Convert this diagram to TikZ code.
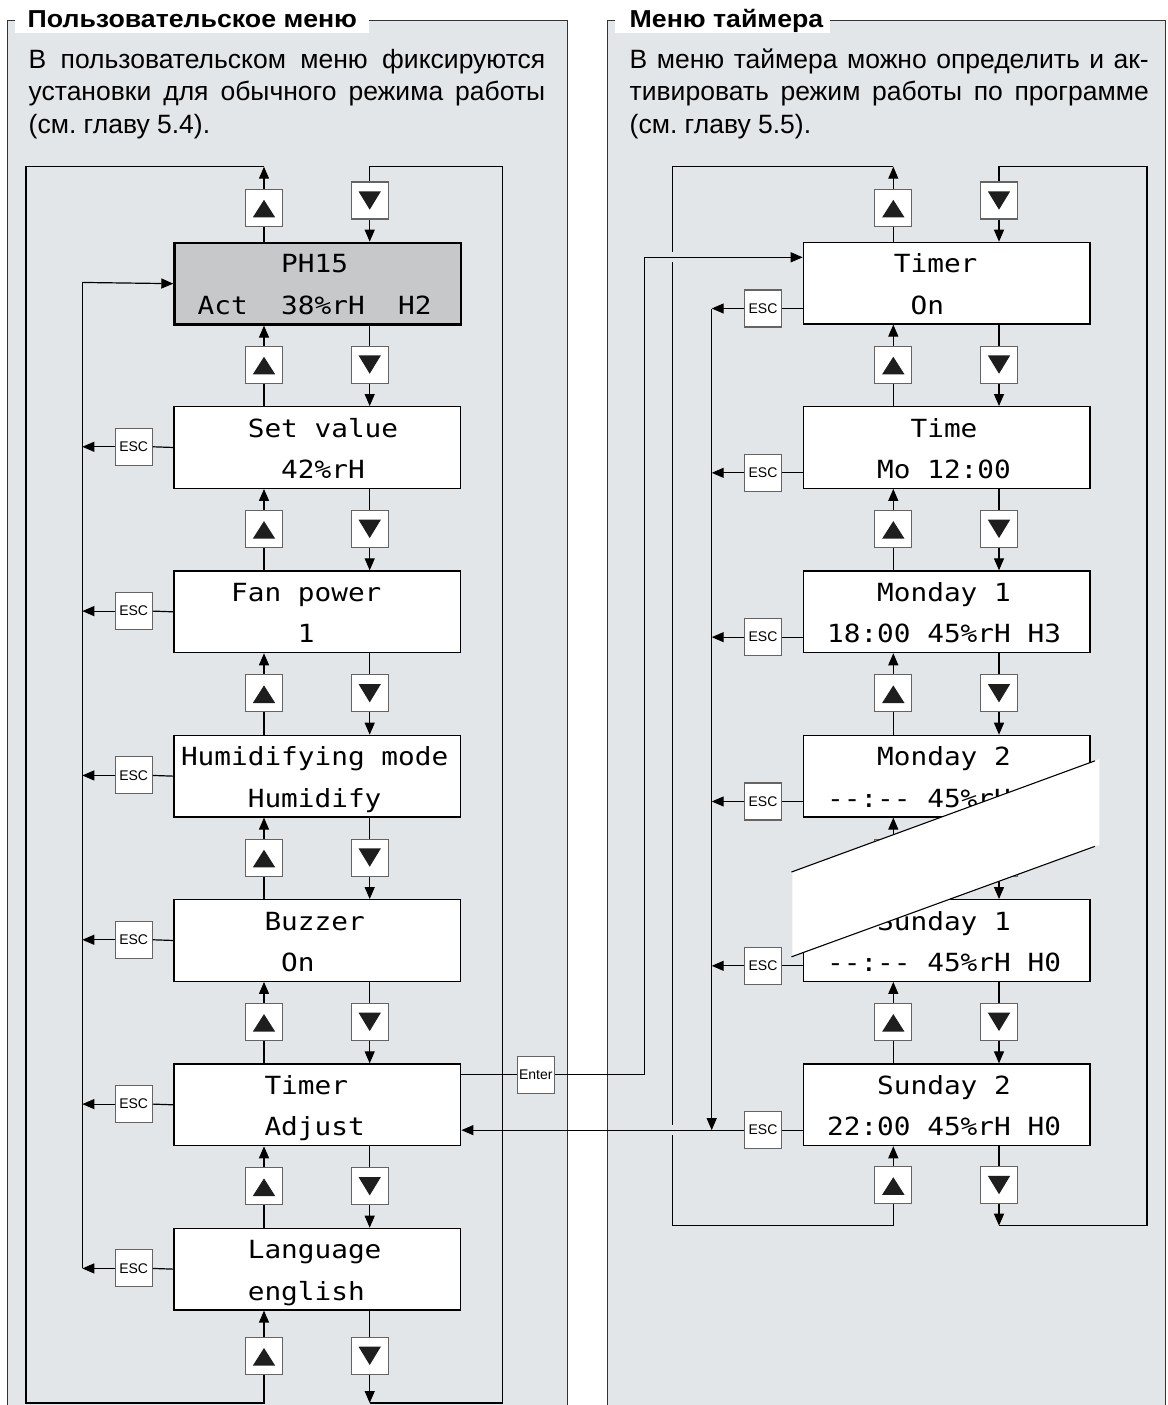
\documentclass[tikz,border=0pt]{standalone}
\usepackage{fontspec}
\setmainfont{Liberation Sans}
\newfontfamily\lcdfont[FakeStretch=1.11]{DejaVu Sans Mono}
\newfontfamily\titlefont[FakeStretch=1.09]{Liberation Sans}
\usetikzlibrary{arrows.meta,calc}
\definecolor{panelgray}{RGB}{227,230,233}
\definecolor{lcdgray}{RGB}{198,200,202}
\definecolor{btnborder}{RGB}{100,100,100}
\definecolor{arrfill}{RGB}{30,30,30}
\newcommand\lsp{\hspace*{16.7pt}}
\newcommand\lcdrow[5]{\node[lcdtxt] (#1) at ($(#2.north west)+({7.5+16.7*#4},#3)$) {#5};}
\begin{document}
\begin{tikzpicture}[x=1pt,y=-1pt,
  line/.style={line width=1.2pt, draw=black},
  arr/.style={line, -{Triangle[length=12pt,width=10pt]}},
  lcdbox/.style={draw=black, line width=1.4pt, fill=white, minimum width=286.7pt, minimum height=81.5pt, inner sep=0pt, anchor=north west},
  lcdtxt/.style={anchor=base west, inner sep=0pt, font=\lcdfont\fontsize{25}{30}\selectfont},
  btn/.style={draw=btnborder, line width=1.1pt, fill=white, minimum size=37pt, inner sep=0pt},
  esc/.style={btn, font=\fontsize{14}{15}\selectfont},
  btnup/.style={btn, path picture={\fill[arrfill] ([shift={(-11.2,9.8)}]path picture bounding box.center) -- ([shift={(11.2,9.8)}]path picture bounding box.center) -- ([shift={(0,-7.8)}]path picture bounding box.center) -- cycle;}},
  btndown/.style={btn, path picture={\fill[arrfill] ([shift={(-11.2,-9.2)}]path picture bounding box.center) -- ([shift={(11.2,-9.2)}]path picture bounding box.center) -- ([shift={(0,9.2)}]path picture bounding box.center) -- cycle;}},
  bodytxt/.style={anchor=base west, inner sep=0pt, font=\fontsize{26.5}{30}\selectfont},
  titletxt/.style={anchor=base west, inner sep=0pt, font=\titlefont\bfseries\fontsize{24.5}{27}\selectfont},
  frame/.style={line width=1.3pt, draw=black!80}
]
\useasboundingbox (0,0) rectangle (1167,1405);
\fill[white] (0,0) rectangle (1167,1405);

% ---------- panels ----------
\fill[panelgray] (7.5,20.5) rectangle (567.3,1406);
\fill[panelgray] (607.5,20.5) rectangle (1165.5,1406);
\draw[frame] (7.5,1406) -- (7.5,20.5) -- (567.3,20.5) -- (567.3,1406);
\draw[frame] (607.5,1406) -- (607.5,20.5) -- (1165.5,20.5) -- (1165.5,1406);
\fill[white] (15.2,19.2) rectangle (369,33.3);
\fill[white] (615.2,19.2) rectangle (830,33.3);
\node[titletxt] (T1) at (27.5,27.8) {Пользовательское меню};
\node[titletxt] (T2) at (629.5,27.8) {Меню таймера};

\frenchspacing
\node[bodytxt] (B1a) at (28.5,68.3) {\makebox[516.5pt][s]{В пользовательском меню фиксируются}};
\node[bodytxt] (B1b) at (28.5,100.8) {\makebox[516.5pt][s]{установки для обычного режима работы}};
\node[bodytxt] (B1c) at (28.5,133.3) {(см. главу 5.4).};
\node[bodytxt] (B2a) at (629.5,68.3) {\makebox[519pt][s]{В меню таймера можно определить и ак-}};
\node[bodytxt] (B2b) at (629.5,100.8) {\makebox[519pt][s]{тивировать режим работы по программе}};
\node[bodytxt] (B2c) at (629.5,133.3) {(см. главу 5.5).};

% ---------- boxes ----------
\node[lcdbox, fill=lcdgray, line width=2.4pt] (L0) at (173.3,241.7) {};
\node[lcdbox] (L1) at (173.3,406.03) {};
\node[lcdbox] (L2) at (173.3,570.36) {};
\node[lcdbox] (L3) at (173.3,734.69) {};
\node[lcdbox] (L4) at (173.3,899.02) {};
\node[lcdbox] (L5) at (173.3,1063.35) {};
\node[lcdbox] (L6) at (173.3,1227.68) {};
\node[lcdbox] (R0) at (802.7,241.7) {};
\node[lcdbox] (R1) at (802.7,406.03) {};
\node[lcdbox] (R2) at (802.7,570.36) {};
\node[lcdbox] (R3) at (802.7,734.69) {};
\node[lcdbox] (R4) at (802.7,899.02) {};
\node[lcdbox] (R5) at (802.7,1063.35) {};

\lcdrow{L0a}{L0}{31}{6}{PH15}
\lcdrow{L0b}{L0}{72.5}{1}{Act\lsp\lsp 38\%rH\lsp\lsp H2}
\lcdrow{L1a}{L1}{31}{4}{Set\lsp value}
\lcdrow{L1b}{L1}{72.5}{6}{42\%rH}
\lcdrow{L2a}{L2}{31}{3}{Fan\lsp power}
\lcdrow{L2b}{L2}{72.5}{7}{1}
\lcdrow{L3a}{L3}{31}{0}{Humidifying\lsp mode}
\lcdrow{L3b}{L3}{72.5}{4}{Humidify}
\lcdrow{L4a}{L4}{31}{5}{Buzzer}
\lcdrow{L4b}{L4}{72.5}{6}{On}
\lcdrow{L5a}{L5}{31}{5}{Timer}
\lcdrow{L5b}{L5}{72.5}{5}{Adjust}
\lcdrow{L6a}{L6}{31}{4}{Language}
\lcdrow{L6b}{L6}{72.5}{4}{english}
\lcdrow{R0a}{R0}{31}{5}{Timer}
\lcdrow{R0b}{R0}{72.5}{6}{On}
\lcdrow{R1a}{R1}{31}{6}{Time}
\lcdrow{R1b}{R1}{72.5}{4}{Mo\lsp 12:00}
\lcdrow{R2a}{R2}{31}{4}{Monday\lsp 1}
\lcdrow{R2b}{R2}{72.5}{1}{18:00\lsp 45\%rH\lsp H3}
\lcdrow{R3a}{R3}{31}{4}{Monday\lsp 2}
\lcdrow{R3b}{R3}{72.5}{1}{\mbox{-}\mbox{-}:\mbox{-}\mbox{-}\lsp 45\%rH\lsp H0}
\lcdrow{R4a}{R4}{31}{4}{Sunday\lsp 1}
\lcdrow{R4b}{R4}{72.5}{1}{\mbox{-}\mbox{-}:\mbox{-}\mbox{-}\lsp 45\%rH\lsp H0}
\lcdrow{R5a}{R5}{31}{4}{Sunday\lsp 2}
\lcdrow{R5b}{R5}{72.5}{1}{22:00\lsp 45\%rH\lsp H0}

% ---------- buttons ----------
\node[btnup] (LUt) at (264,207.6) {};
\node[btndown] (LDt) at (369.7,200.5) {};
\node[btnup] (RUt) at (893.3,207.6) {};
\node[btndown] (RDt) at (999,200.5) {};
\foreach \k/\c in {1/364.55,2/528.88,3/693.21,4/857.54,5/1021.87,6/1186.2}{
  \node[btnup] (LU\k) at (264,\c) {};
  \node[btndown] (LD\k) at (369.7,\c) {};
}
\foreach \k/\c in {1/364.55,2/528.88,3/693.21,4/857.54,5/1021.87}{
  \node[btnup] (RU\k) at (893.3,\c) {};
  \node[btndown] (RD\k) at (999,\c) {};
}
\node[btnup] (LUb) at (264,1355.8) {};
\node[btndown] (LDb) at (369.7,1355.8) {};
\node[btnup] (RUb) at (893.3,1185) {};
\node[btndown] (RDb) at (999,1185) {};

% ESC / Enter
\foreach \k/\c in {1/446.78,2/611.11,3/775.44,4/939.77,5/1104.1,6/1268.43}{
  \node[esc] (EL\k) at (133.7,\c) {ESC};
}
\foreach \k/\c in {0/308.5,1/472.83,2/637.16,3/801.49,4/965.82,5/1130.15}{
  \node[esc] (ER\k) at (763,\c) {ESC};
}
\node[esc] (ENT) at (535.8,1074.75) {Enter};

% ---------- connectors: step arrows between boxes ----------
\foreach \a/\b in {0/1,1/2,2/3,3/4,4/5,5/6}{
  \draw[line] (L\b.north -| LU\b) -- (LU\b.south);
  \draw[arr] (LU\b.north) -- (L\a.south -| LU\b);
  \draw[line] (L\a.south -| LD\b) -- (LD\b.north);
  \draw[arr] (LD\b.south) -- (L\b.north -| LD\b);
}
\foreach \a/\b in {0/1,1/2,2/3,3/4,4/5}{
  \draw[line] (R\b.north -| RU\b) -- (RU\b.south);
  \draw[arr] (RU\b.north) -- (R\a.south -| RU\b);
  \draw[line] (R\a.south -| RD\b) -- (RD\b.north);
  \draw[arr] (RD\b.south) -- (R\b.north -| RD\b);
}

% left loop
\coordinate (lA) at (264,166.7);
\coordinate (lB) at (369.7,1403);
\draw[line] (L0.north -| LUt) -- (LUt.south);
\draw[arr] (LUt.north) -- (lA);
\draw[line] (lA) -- (26,166.7) -- (26,1403) -- (264,1403) -- (LUb.south);
\draw[arr] (LUb.north) -- (L6.south -| LUb);
\draw[line] (L6.south -| LDb) -- (LDb.north);
\draw[arr] (LDb.south) -- (lB);
\draw[line] (lB) -- (502.3,1403) -- (502.3,166.7) -- (369.7,166.7) -- (LDt.north);
\draw[arr] (LDt.south) -- (L0.north -| LDt);

% right loop
\coordinate (rA) at (893.3,166.7);
\coordinate (rB) at (999,1225.7);
\draw[line] (R0.north -| RUt) -- (RUt.south);
\draw[arr] (RUt.north) -- (rA);
\draw[line] (rA) -- (672.7,166.7) -- (672.7,252.3) (672.7,262.3) -- (672.7,1125.2) (672.7,1135.2) -- (672.7,1225.7) -- (893.3,1225.7) -- (RUb.south);
\draw[arr] (RUb.north) -- (R5.south -| RUb);
\draw[line] (R5.south -| RDb) -- (RDb.north);
\draw[arr] (RDb.south) -- (rB);
\draw[line] (rB) -- (1147,1225.7) -- (1147,166.7) -- (999,166.7) -- (RDt.north);
\draw[arr] (RDt.south) -- (R0.north -| RDt);

% left ESC returns
\coordinate (lev) at (82.3,282.45);
\foreach \k in {1,...,6}{
  \draw[line] (L\k.west) -- (EL\k.east);
  \draw[arr] (EL\k.west) -- (EL\k.west -| lev);
}
\draw[line] (EL6.west -| lev) -- (lev);
\draw[arr] (lev) -- (L0.west);

% right ESC returns
\coordinate (rev) at (711.7,308.5);
\foreach \k in {0,...,5}{
  \draw[line] (ER\k.east -| R\k.west) -- (ER\k.east);
}
\foreach \k in {0,...,4}{
  \draw[arr] (ER\k.west) -- (ER\k.west -| rev);
}
\draw[arr] (rev) -- (ER5.west -| rev);
\draw[arr] (ER5.west) -- (ER5.west -| L5.east);

% Enter
\coordinate (ent1) at (644.3,1074.75);
\coordinate (ent2) at (644.3,257.3);
\draw[line] (ENT.west -| L5.east) -- (ENT.west);
\draw[line] (ENT.east) -- (ent1) -- (ent2);
\draw[arr] (ent2) -- (ent2 -| R0.west);

% ---------- break band ----------
\fill[white] (792.3,871.7) -- (1099.3,759.3) -- (1099.3,845) -- (792.3,956.5) -- cycle;
\draw[line width=1.1pt] (791.5,872) -- (1095,760.8);
\draw[line width=1.1pt] (791.5,956.8) -- (1095,846.3);
\end{tikzpicture}
\end{document}
